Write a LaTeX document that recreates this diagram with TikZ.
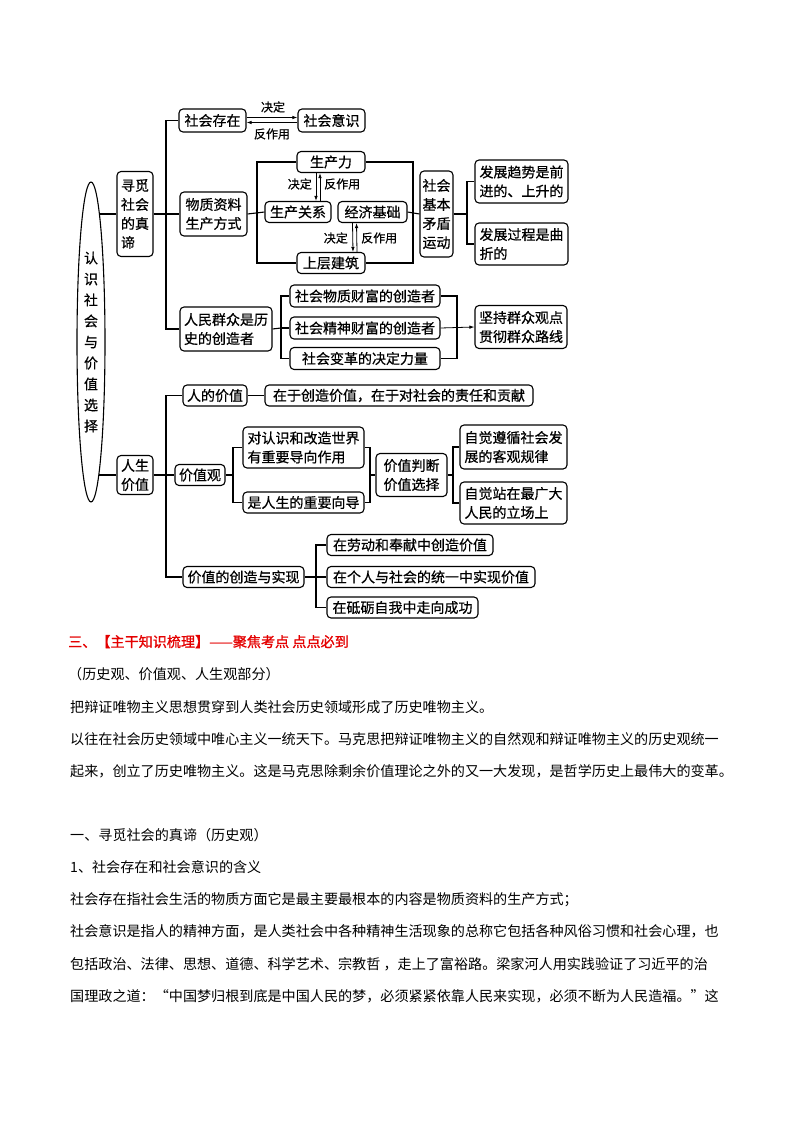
\documentclass[tikz,border=0pt]{standalone}
\usepackage{fontspec}
\setmainfont{Noto Sans CJK SC}
\newfontfamily\cjkd{Noto Sans CJK SC}[FakeBold=0.6]
\newfontfamily\cjkh{Noto Sans CJK SC}[FakeBold=1.2]
\usetikzlibrary{shapes.geometric,arrows.meta,backgrounds}
\definecolor{headred}{RGB}{228,0,0}
\tikzset{
  box/.style={draw, rounded corners=4pt, line width=1.1pt, fill=white, inner sep=0pt, align=left, font=\cjkd\fontsize{14}{19}\selectfont},
  lbl/.style={inner sep=0pt, font=\cjkd\fontsize{12}{14}\selectfont},
  link/.style={line width=1.1pt},
  rel/.style={line width=0.8pt, ->},
  para/.style={anchor=base west, inner sep=0pt, font=\fontsize{14.1}{14}\selectfont}
}
\begin{document}
\begin{tikzpicture}[x=1pt, y=-1pt, >={Latex[length=5pt,width=3.5pt]}]
    \useasboundingbox (0,0) rectangle (800,1132);

    \node[draw, ellipse, line width=1.1pt, fill=white, minimum width=28pt, minimum height=320pt, inner sep=0pt, align=center, font=\cjkd\fontsize{14}{21}\selectfont] (el) at (91,342) {认\\识\\社\\会\\与\\价\\值\\选\\择};

    \node[box, minimum width=36pt, minimum height=85pt] (xunmi) at (135,214) {寻觅\\社会\\的真\\谛};
    \node[box, minimum width=36pt, minimum height=39pt] (rensheng) at (135,475) {人生\\价值};

    \node[box, minimum width=67pt, minimum height=23pt] (cunzai) at (212.5,120.5) {社会存在};
    \node[box, minimum width=67pt, minimum height=23pt] (yishi) at (331.5,120.5) {社会意识};
    \node[lbl] (jd0) at (273,107) {决定};
    \node[lbl] (fz0) at (272,134) {反作用};

    \node[box, minimum width=67pt, minimum height=44pt] (wuzhi) at (213.5,214) {物质资料\\生产方式};
    \node[box, minimum width=68pt, minimum height=21pt] (sccli) at (331,162) {生产力};
    \node[box, minimum width=66pt, minimum height=21pt] (scgx) at (298,212) {生产关系};
    \node[box, minimum width=69pt, minimum height=21pt] (jjjc) at (372.5,212) {经济基础};
    \node[box, minimum width=68pt, minimum height=21pt] (scjz) at (331,263) {上层建筑};
    \node[lbl, anchor=east] (jd1) at (312,184) {决定};
    \node[lbl, anchor=west] (fz1) at (324,184) {反作用};
    \node[lbl, anchor=east] (jd2) at (348,238) {决定};
    \node[lbl, anchor=west] (fz2) at (361,238) {反作用};
    \node[box, minimum width=33pt, minimum height=86pt] (jiben) at (436.5,214) {社会\\基本\\矛盾\\运动};
    \node[box, minimum width=93pt, minimum height=43pt] (qushi) at (521.5,181.5) {发展趋势是前\\进的、上升的};
    \node[box, minimum width=93pt, minimum height=42pt] (guocheng) at (521.5,244) {发展过程是曲\\折的};

    \node[box, minimum width=92pt, minimum height=44pt] (renmin) at (226,329) {人民群众是历\\史的创造者};
    \node[box, minimum width=150pt, minimum height=22pt] (wzcf) at (365,296) {社会物质财富的创造者};
    \node[box, minimum width=150pt, minimum height=22pt] (jscf) at (365,328) {社会精神财富的创造者};
    \node[box, minimum width=150pt, minimum height=22pt] (biange) at (365,358.5) {社会变革的决定力量};
    \node[box, minimum width=92pt, minimum height=43pt] (jianchi) at (521,327) {坚持群众观点\\贯彻群众路线};

    \node[box, minimum width=64pt, minimum height=21pt] (rdjz) at (215,395.5) {人的价值};
    \node[box, minimum width=268pt, minimum height=21pt] (zaiyu) at (399,395.5) {在于创造价值，在于对社会的责任和贡献};
    \node[box, minimum width=50pt, minimum height=21pt] (jzg) at (200,475) {价值观};
    \node[box, minimum width=121pt, minimum height=41pt] (daoxiang) at (303.5,447.5) {对认识和改造世界\\有重要导向作用};
    \node[box, minimum width=121pt, minimum height=21pt] (xiangdao) at (303.5,502.5) {是人生的重要向导};
    \node[box, minimum width=71pt, minimum height=43pt] (panduan) at (411.5,475) {价值判断\\价值选择};
    \node[box, minimum width=107pt, minimum height=44pt] (zunxun) at (513.5,447) {自觉遵循社会发\\展的客观规律};
    \node[box, minimum width=107pt, minimum height=42pt] (zhanzai) at (513.5,503) {自觉站在最广大\\人民的立场上};
    \node[box, minimum width=121pt, minimum height=21pt] (czsx) at (243.5,577) {价值的创造与实现};
    \node[box, minimum width=166pt, minimum height=21pt] (laodong) at (410,545) {在劳动和奉献中创造价值};
    \node[box, minimum width=208pt, minimum height=21pt] (tongyi) at (431,577) {在个人与社会的统一中实现价值};
    \node[box, minimum width=151pt, minimum height=21pt] (zhuoli) at (402.5,607.5) {在砥砺自我中走向成功};

    \coordinate (trunkA) at (166,214);
    \coordinate (leftB) at (257,212);
    \coordinate (rightB) at (413,212);
    \coordinate (forkC) at (467,214);
    \coordinate (leftD) at (281,328);
    \coordinate (rightD) at (457,328);
    \coordinate (trunkE) at (166,475);
    \coordinate (leftF) at (233,475);
    \coordinate (rightF) at (370,475);
    \coordinate (forkG) at (453,475);
    \coordinate (leftH) at (316,577);

    \begin{scope}[on background layer]
        \draw[link] (xunmi.west) -- (xunmi.west -| el.center);
        \draw[link] (rensheng.west) -- (rensheng.west -| el.center);
        \draw[link] (xunmi.east) -- (wuzhi.west);
        \draw[link] (cunzai.west) -| (trunkA) |- (renmin.west);
        \draw[link] (wuzhi.east) -- (scgx.west);
        \draw[link] (sccli.west) -| (leftB) |- (scjz.west);
        \draw[link] (sccli.east) -| (rightB) |- (scjz.east);
        \draw[link] (jjjc.east) -- (jiben.west);
        \draw[link] (jiben.east) -- (forkC);
        \draw[link] (qushi.west) -| (forkC) |- (guocheng.west);
        \draw[link] (renmin.east) -- (leftD);
        \draw[link] (wzcf.west) -| (leftD) |- (biange.west);
        \draw[link] (leftD) -- (jscf.west);
        \draw[link] (wzcf.east) -| (rightD) |- (biange.east);
        \draw[link] (rensheng.east) -- (jzg.west);
        \draw[link] (rdjz.west) -| (trunkE) |- (czsx.west);
        \draw[link] (rdjz.east) -- (zaiyu.west);
        \draw[link] (jzg.east) -- (leftF);
        \draw[link] (daoxiang.west) -| (leftF) |- (xiangdao.west);
        \draw[link] (daoxiang.east) -| (rightF) |- (xiangdao.east);
        \draw[link] (rightF) -- (panduan.west);
        \draw[link] (panduan.east) -- (forkG);
        \draw[link] (zunxun.west) -| (forkG) |- (zhanzai.west);
        \draw[link] (czsx.east) -- (leftH);
        \draw[link] (laodong.west) -| (leftH) |- (zhuoli.west);
        \draw[link] (leftH) -- (tongyi.west);
    \end{scope}

    \draw[rel] ([yshift=3pt]cunzai.east) -- ([yshift=3pt]yishi.west);
    \draw[rel] ([yshift=-2pt]yishi.west) -- ([yshift=-2pt]cunzai.east);
    \draw[rel] ([xshift=-15pt]sccli.south) -- ([xshift=18pt]scgx.north);
    \draw[rel] ([xshift=22pt]scgx.north) -- ([xshift=-11pt]sccli.south);
    \draw[rel] ([xshift=-20pt]jjjc.south) -- ([xshift=22pt]scjz.north);
    \draw[rel] ([xshift=26pt]scjz.north) -- ([xshift=-16pt]jjjc.south);
    \draw[rel] (jscf.east) -- (jianchi.west);

    \node[para, font=\cjkh\fontsize{14.1}{14}\selectfont, text=headred] (head) at (68,647) {三、【主干知识梳理】——聚焦考点 点点必到};
    \node[para] (sub) at (68,679) {（历史观、价值观、人生观部分）};
    \node[para] (p1) at (70,712) {把辩证唯物主义思想贯穿到人类社会历史领域形成了历史唯物主义。};
    \node[para] (p2) at (70,744) {以往在社会历史领域中唯心主义一统天下。马克思把辩证唯物主义的自然观和辩证唯物主义的历史观统一};
    \node[para] (p3) at (70,776) {起来，创立了历史唯物主义。这是马克思除剩余价值理论之外的又一大发现，是哲学历史上最伟大的变革。};
    \node[para] (s1) at (70,840) {一、寻觅社会的真谛（历史观）};
    \node[para] (s2) at (70,872) {1、社会存在和社会意识的含义};
    \node[para] (p4) at (70,904) {社会存在指社会生活的物质方面它是最主要最根本的内容是物质资料的生产方式；};
    \node[para] (p5) at (70,936) {社会意识是指人的精神方面，是人类社会中各种精神生活现象的总称它包括各种风俗习惯和社会心理，也};
    \node[para] (p6) at (70,969) {包括政治、法律、思想、道德、科学艺术、宗教哲 ，走上了富裕路。梁家河人用实践验证了习近平的治};
    \node[para] (p7) at (70,1001) {国理政之道：“中国梦归根到底是中国人民的梦，必须紧紧依靠人民来实现，必须不断为人民造福。”这};
\end{tikzpicture}
\end{document}
